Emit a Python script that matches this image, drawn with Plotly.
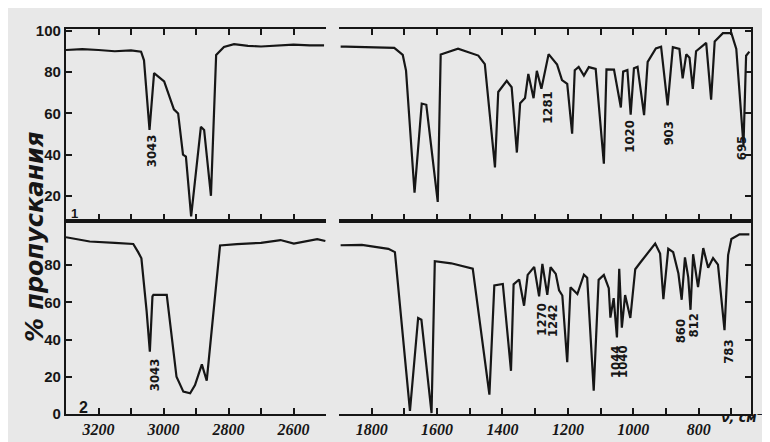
import plotly.graph_objects as go

# ---------------- data ----------------
# Spectrum 1 (upper panel), 3300-2500 cm-1
s1_hi_wn = [3300, 3250, 3200, 3150, 3100, 3069, 3060, 3043, 3029, 2998, 2968, 2955, 2940, 2931,
            2915, 2885, 2875, 2854, 2838, 2814, 2783, 2740, 2700, 2650, 2600, 2550, 2506]
s1_hi_T = [90.8, 91.2, 90.8, 90.2, 90.6, 90, 85.8, 52, 79.6, 75.5, 62, 60, 40, 39,
           10, 53.5, 52, 20, 88.4, 92.3, 93.6, 92.8, 92.5, 93, 93.4, 93, 93]
# Spectrum 1, 1900-640 cm-1
s1_lo_wn = [1895, 1879, 1731, 1705, 1695, 1669, 1647, 1633, 1598, 1589, 1536, 1474, 1454, 1423, 1413,
            1387, 1372, 1356, 1346, 1331, 1321, 1305, 1295, 1281, 1259, 1233, 1218, 1202, 1187, 1179,
            1167, 1151, 1136, 1115, 1090, 1082, 1059, 1038, 1031, 1018, 1008, 998, 987, 967, 956,
            931, 915, 895, 879, 859, 849, 838, 828, 818, 808, 777, 762, 751, 726, 700,
            685, 674, 663, 655, 645]
s1_lo_T = [92.4, 92.4, 91.8, 88.4, 80.8, 21.5, 64.8, 64.2, 17, 88.6, 91.4, 88.1, 83.9, 33.8, 70.4,
           75.8, 72.7, 41, 65, 67.5, 79.2, 67.4, 80.7, 72, 88.8, 83.7, 76.2, 74.4, 50.2, 81,
           82.6, 78.4, 82.5, 81.6, 35.6, 81.4, 81.3, 62.9, 80.3, 81.1, 59.4, 81.9, 82.6, 59.2, 85,
           91.6, 92.4, 63.9, 92.2, 91.3, 77, 88.7, 87, 71.9, 90.2, 94.3, 66.7, 95, 99, 99,
           91.3, 66.3, 44.5, 88, 90]
# Spectrum 2 (lower panel), 3300-2500 cm-1
s2_hi_wn = [3300, 3227, 3150, 3093, 3078, 3068, 3052, 3042, 3034, 3031, 2990, 2960, 2939, 2918,
            2903, 2882, 2867, 2826, 2774, 2700, 2640, 2599, 2527, 2502]
s2_hi_T = [95, 92.7, 92, 91.4, 87, 83.7, 55.4, 33.5, 63.2, 64, 64, 20, 12, 11.1,
           15.5, 26.7, 17.9, 90.6, 91.3, 92, 93.5, 91.6, 94, 93]
# Spectrum 2, 1900-640 cm-1
s2_lo_wn = [1895, 1830, 1749, 1729, 1683, 1658, 1648, 1617, 1607, 1557, 1491, 1440, 1425, 1399, 1374,
            1366, 1349, 1334, 1323, 1303, 1288, 1278, 1263, 1253, 1237, 1227, 1217, 1202, 1192, 1171,
            1151, 1141, 1121, 1106, 1090, 1075, 1070, 1060, 1050, 1043, 1035, 1025, 1009, 994, 979,
            964, 949, 933, 918, 908, 893, 878, 862, 852, 842, 832, 825, 817, 802, 786,
            771, 756, 741, 721, 710, 700, 675, 645]
s2_lo_T = [90.7, 90.9, 88.8, 87, 1.7, 51.6, 50.7, 0.5, 82.1, 81, 78.1, 10.4, 69.1, 69.9, 23.2,
           69.7, 72.3, 58.2, 74.8, 79.1, 63.2, 80.7, 64, 78.9, 75.3, 66.5, 63.7, 27.8, 68.1, 64.5,
           74.9, 73.2, 12.5, 72.1, 74.7, 67.6, 51.8, 62.3, 41.2, 78, 46.4, 63.9, 51.6, 77.8, 81.3,
           84.7, 88.1, 91.6, 86.3, 61.7, 88.8, 87, 75.5, 61.4, 84.2, 73.6, 56, 85.9, 68.2, 89.2,
           78.6, 83.8, 80.3, 45.1, 85.4, 94.1, 96.6, 96.5]

# peak labels
s1_peak_text = ["3043", "1281", "1020", "903", "695"]
s1_peak_wn = [3036, 1262, 1014, 891, 670]
s1_peak_T = [51, 72, 58, 57, 50]
s2_peak_text = ["3043", "1270", "1242", "1044", "1040", "860", "812", "783"]
s2_peak_wn = [3028, 1283, 1245, 1055, 1031, 857, 815, 707]
s2_peak_T = [31, 61, 60, 38, 38, 52, 55, 41]

# axis ticks (labelled major ticks + unlabelled minor ticks every 100 cm-1)
x_hi_ticks = [3200, 3000, 2800, 2600]
x_hi_labels = ["3200", "3000", "2800", "2600"]
x_hi_minor = [3300, 3100, 2900, 2700, 2500]
x_lo_ticks = [1800, 1600, 1400, 1200, 1000, 800]
x_lo_labels = ["1800", "1600", "1400", "1200", "1000", "800"]
x_lo_minor = [1900, 1700, 1500, 1300, 1100, 900, 700]
y1_ticks = [20, 40, 60, 80, 100]
y1_labels = ["20", "40", "60", "80", "100"]
y2_ticks = [0, 20, 40, 60, 80]
y2_labels = ["0", "20", "40", "60", "80"]

y_title = "% пропускания"
x_unit = "ν, см⁻¹"

# ---------------- styling ----------------
INK = "#161616"
PAPER = "#e8e8e8"
W, H = 770, 442
ML, MR, MT, MB = 58, 27, 21, 33
PW = W - ML - MR
PH = H - MT - MB
left_dom = [0, 260 / PW]
right_dom = [273 / PW, 1]
mid = (409 - 214) / PH
bot_dom = [0, mid]
top_dom = [mid, 1]

line_style = dict(color=INK, width=2.2)

fig = go.Figure()
fig.add_trace(go.Scatter(x=s1_hi_wn, y=s1_hi_T, mode="lines", line=line_style, xaxis="x", yaxis="y"))
fig.add_trace(go.Scatter(x=s1_lo_wn, y=s1_lo_T, mode="lines", line=line_style, xaxis="x2", yaxis="y2"))
fig.add_trace(go.Scatter(x=s2_hi_wn, y=s2_hi_T, mode="lines", line=line_style, xaxis="x3", yaxis="y3"))
fig.add_trace(go.Scatter(x=s2_lo_wn, y=s2_lo_T, mode="lines", line=line_style, xaxis="x4", yaxis="y4"))

xtickfont = dict(family="Liberation Sans Narrow", size=16, color=INK, weight="bold", style="italic")
ytickfont = dict(family="Liberation Sans", size=15, color=INK, weight="bold")

common_x = dict(showline=True, linecolor=INK, linewidth=2.2, ticks="inside", ticklen=6,
                tickwidth=2, tickcolor=INK, showgrid=False, zeroline=False, tickfont=xtickfont)
common_y = dict(showline=True, linecolor=INK, linewidth=2.2, ticks="inside", ticklen=6,
                tickwidth=2, tickcolor=INK, showgrid=False, zeroline=False, tickfont=ytickfont)


def minor(vals):
    return dict(tickvals=vals, ticks="inside", ticklen=6, tickwidth=2, tickcolor=INK, showgrid=False)


fig.update_layout(
    width=W, height=H,
    margin=dict(l=ML, r=MR, t=MT, b=MB),
    paper_bgcolor=PAPER, plot_bgcolor=PAPER,
    showlegend=False,
    xaxis=dict(domain=left_dom, anchor="y", range=[3300, 2500], tickvals=x_hi_ticks,
               minor=minor(x_hi_minor), showticklabels=False, mirror="ticks", **common_x),
    yaxis=dict(domain=top_dom, anchor="x", range=[8, 101], tickvals=y1_ticks, ticktext=y1_labels,
               **common_y),
    xaxis2=dict(domain=right_dom, anchor="y2", range=[1900, 640], tickvals=x_lo_ticks,
                minor=minor(x_lo_minor), showticklabels=False, mirror="ticks", **common_x),
    yaxis2=dict(domain=top_dom, anchor="x2", side="right", range=[8, 101], tickvals=y1_ticks,
                showticklabels=False, **common_y),
    xaxis3=dict(domain=left_dom, anchor="y3", range=[3300, 2500], tickvals=x_hi_ticks,
                ticktext=x_hi_labels, minor=minor(x_hi_minor), mirror=True, **common_x),
    yaxis3=dict(domain=bot_dom, anchor="x3", range=[0, 104], tickvals=y2_ticks, ticktext=y2_labels,
                **common_y),
    xaxis4=dict(domain=right_dom, anchor="y4", range=[1900, 640], tickvals=x_lo_ticks,
                ticktext=x_lo_labels, minor=minor(x_lo_minor), mirror=True, **common_x),
    yaxis4=dict(domain=bot_dom, anchor="x4", side="right", range=[0, 104], tickvals=y2_ticks,
                showticklabels=False, **common_y),
)

peak_font = dict(family="DejaVu Sans Condensed", size=13, color=INK, weight="bold")
annotations = []
for txt, wn, t in zip(s1_peak_text, s1_peak_wn, s1_peak_T):
    xr, yr = ("x", "y") if wn > 2000 else ("x2", "y2")
    annotations.append(dict(x=wn, y=t, xref=xr, yref=yr, text=txt, textangle=-90, showarrow=False,
                            xanchor="center", yanchor="top", font=peak_font))
for txt, wn, t in zip(s2_peak_text, s2_peak_wn, s2_peak_T):
    xr, yr = ("x3", "y3") if wn > 2000 else ("x4", "y4")
    annotations.append(dict(x=wn, y=t, xref=xr, yref=yr, text=txt, textangle=-90, showarrow=False,
                            xanchor="center", yanchor="top", font=peak_font))

annotations.append(dict(x=-0.045, y=0.46, xref="paper", yref="paper", text=y_title, textangle=-90,
                        showarrow=False, xanchor="center", yanchor="middle",
                        font=dict(family="DejaVu Sans", size=24, color=INK, style="italic", weight="bold")))
annotations.append(dict(x=(763 - ML) / PW, y=-0.008, xref="paper", yref="paper", text=x_unit,
                        showarrow=False, xanchor="right", yanchor="middle",
                        font=dict(family="DejaVu Sans Condensed", size=14, color=INK, style="italic", weight="bold")))
annotations.append(dict(x=0.025, y=0.016, xref="paper", yref="paper", text="2", showarrow=False,
                        xanchor="center", yanchor="middle",
                        font=dict(family="Liberation Sans", size=16, color=INK, weight="bold")))
annotations.append(dict(x=0.012, y=0.522, xref="paper", yref="paper", text="1", showarrow=False,
                        xanchor="center", yanchor="middle",
                        font=dict(family="Liberation Sans", size=13, color=INK, weight="bold")))
fig.update_layout(annotations=annotations)

fig.write_html("out.html")
